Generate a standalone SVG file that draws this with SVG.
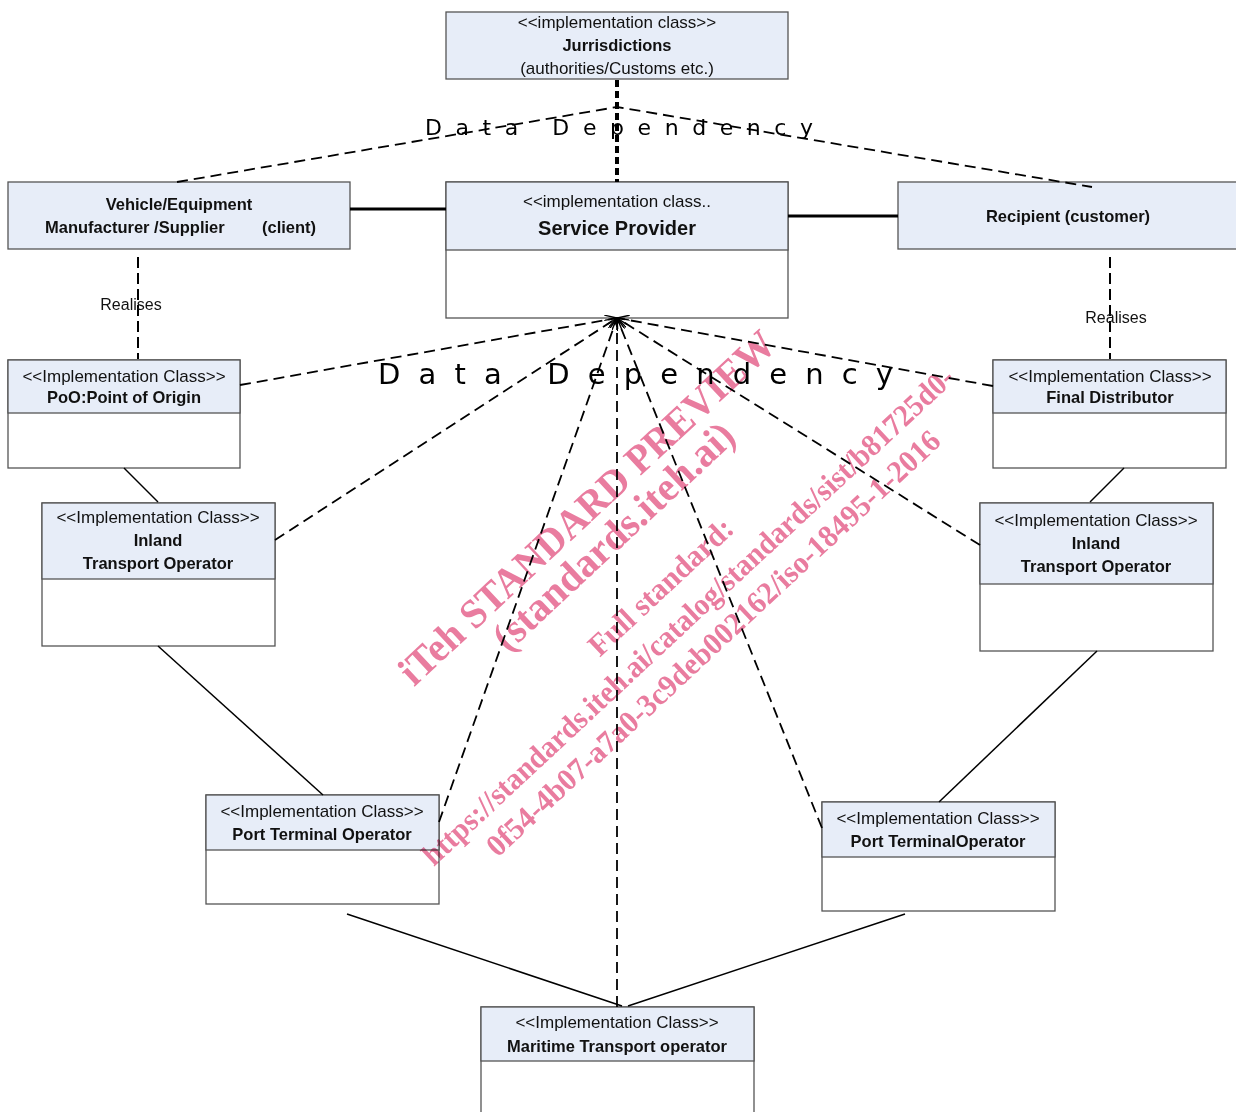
<svg xmlns="http://www.w3.org/2000/svg" width="1236" height="1112" viewBox="0 0 1236 1112">
<style>
.box{fill:#ffffff;stroke:#555555;stroke-width:1.3}
.hdr{fill:#E7EDF8;stroke:#555555;stroke-width:1.3}
.st{font-family:"Liberation Sans",Arial,sans-serif;font-size:17px;fill:#111;text-anchor:middle}
.nm{font-family:"Liberation Sans",Arial,sans-serif;font-size:16.5px;font-weight:bold;fill:#111;text-anchor:middle}
.lbl{font-family:"Liberation Sans",Arial,sans-serif;font-size:16px;fill:#111;text-anchor:middle}
.dd{font-family:"DejaVu Sans",sans-serif;fill:#000}
.dash{fill:none;stroke:#000;stroke-width:1.8;stroke-dasharray:11 6}
.real{fill:none;stroke:#000;stroke-width:2;stroke-dasharray:11 5}
.dot{fill:none;stroke:#000;stroke-width:4;stroke-dasharray:7 4}
.solid{fill:none;stroke:#000;stroke-width:1.5}
.thick{fill:none;stroke:#000;stroke-width:3}
.wm{font-family:"Liberation Serif","Times New Roman",serif;font-weight:bold;fill:#E97C9F;text-anchor:middle}
</style>
<defs>
<marker id="open" viewBox="0 0 12 10" refX="12" refY="5" markerWidth="12" markerHeight="10" markerUnits="userSpaceOnUse" orient="auto">
<path d="M0,0 L12,5 L0,10" fill="none" stroke="#000" stroke-width="1.4" style="stroke-dasharray:none"/>
</marker>
</defs>

<g id="jurrisdictions">
<rect class="hdr" x="446" y="12" width="342" height="67"/>
<text class="st" x="617" y="28">&lt;&lt;implementation class&gt;&gt;</text>
<text class="nm" x="617" y="51">Jurrisdictions</text>
<text class="st" x="617" y="74">(authorities/Customs etc.)</text>
</g>

<g id="vehicle">
<rect class="hdr" x="8" y="182" width="342" height="67"/>
<text class="nm" x="179" y="210">Vehicle/Equipment</text>
<text class="nm" x="45" y="233" style="text-anchor:start" xml:space="preserve">Manufacturer /Supplier     <tspan x="262">(client)</tspan></text>
</g>

<g id="service-provider">
<rect class="box" x="446" y="182" width="342" height="136"/>
<rect class="hdr" x="446" y="182" width="342" height="68"/>
<text class="st" x="617" y="207">&lt;&lt;implementation class..</text>
<text class="nm" x="617" y="235" style="font-size:20px">Service Provider</text>
</g>

<g id="recipient">
<rect class="hdr" x="898" y="182" width="345" height="67"/>
<text class="nm" x="1068" y="222">Recipient (customer)</text>
</g>

<g id="poo">
<rect class="box" x="8" y="360" width="232" height="108"/>
<rect class="hdr" x="8" y="360" width="232" height="53"/>
<text class="st" x="124" y="382">&lt;&lt;Implementation Class&gt;&gt;</text>
<text class="nm" x="124" y="403">PoO:Point of Origin</text>
</g>

<g id="final-distributor">
<rect class="box" x="993" y="360" width="233" height="108"/>
<rect class="hdr" x="993" y="360" width="233" height="53"/>
<text class="st" x="1110" y="382">&lt;&lt;Implementation Class&gt;&gt;</text>
<text class="nm" x="1110" y="403">Final Distributor</text>
</g>

<g id="inland-left">
<rect class="box" x="42" y="503" width="233" height="143"/>
<rect class="hdr" x="42" y="503" width="233" height="76"/>
<text class="st" x="158" y="523">&lt;&lt;Implementation Class&gt;&gt;</text>
<text class="nm" x="158" y="546">Inland</text>
<text class="nm" x="158" y="569">Transport Operator</text>
</g>

<g id="inland-right">
<rect class="box" x="980" y="503" width="233" height="148"/>
<rect class="hdr" x="980" y="503" width="233" height="81"/>
<text class="st" x="1096" y="526">&lt;&lt;Implementation Class&gt;&gt;</text>
<text class="nm" x="1096" y="549">Inland</text>
<text class="nm" x="1096" y="572">Transport Operator</text>
</g>

<g id="port-left">
<rect class="box" x="206" y="795" width="233" height="109"/>
<rect class="hdr" x="206" y="795" width="233" height="55"/>
<text class="st" x="322" y="817">&lt;&lt;Implementation Class&gt;&gt;</text>
<text class="nm" x="322" y="840">Port Terminal Operator</text>
</g>

<g id="port-right">
<rect class="box" x="822" y="802" width="233" height="109"/>
<rect class="hdr" x="822" y="802" width="233" height="55"/>
<text class="st" x="938" y="824">&lt;&lt;Implementation Class&gt;&gt;</text>
<text class="nm" x="938" y="847">Port TerminalOperator</text>
</g>

<g id="maritime">
<rect class="box" x="481" y="1007" width="273" height="115"/>
<rect class="hdr" x="481" y="1007" width="273" height="54"/>
<text class="st" x="617" y="1028">&lt;&lt;Implementation Class&gt;&gt;</text>
<text class="nm" x="617" y="1052">Maritime Transport operator</text>
</g>

<g id="connectors">
<line class="dot" x1="617" y1="80" x2="617" y2="182"/>
<polyline class="dash" points="177,182 617,107 1092,187"/>
<line class="thick" x1="350" y1="209" x2="446" y2="209"/>
<line class="thick" x1="788" y1="216" x2="898" y2="216"/>
<line class="real" x1="138" y1="257" x2="138" y2="359"/>
<line class="real" x1="1110" y1="257" x2="1110" y2="359"/>
<line class="solid" x1="124" y1="468" x2="158" y2="502"/>
<line class="solid" x1="158" y1="646" x2="323" y2="795"/>
<line class="solid" x1="1124" y1="468" x2="1090" y2="502"/>
<line class="solid" x1="1097" y1="651" x2="939" y2="802"/>
<line class="solid" x1="347" y1="914" x2="622" y2="1006"/>
<line class="solid" x1="905" y1="914" x2="628" y2="1006"/>
<line class="dash" x1="240" y1="385" x2="617" y2="318" marker-end="url(#open)"/>
<line class="dash" x1="275" y1="540" x2="617" y2="318" marker-end="url(#open)"/>
<line class="dash" x1="439" y1="822" x2="617" y2="318" marker-end="url(#open)"/>
<line class="dash" x1="617" y1="1007" x2="617" y2="318" marker-end="url(#open)"/>
<line class="dash" x1="822" y1="828" x2="617" y2="318" marker-end="url(#open)"/>
<line class="dash" x1="980" y1="545" x2="617" y2="318" marker-end="url(#open)"/>
<line class="dash" x1="993" y1="386" x2="617" y2="318" marker-end="url(#open)"/>
<text class="lbl" x="131" y="310">Realises</text>
<text class="lbl" x="1116" y="323">Realises</text>
<text class="dd" x="425" y="135" font-size="22" textLength="388" lengthAdjust="spacing">Data Dependency</text>
<text class="dd" x="378" y="384" font-size="29" textLength="515" lengthAdjust="spacing">Data Dependency</text>
</g>

<g id="watermark" transform="rotate(-43)" style="mix-blend-mode:multiply">
<text class="wm" x="83" y="785" font-size="41" textLength="498" lengthAdjust="spacingAndGlyphs">iTeh STANDARD PREVIEW</text>
<text class="wm" x="83" y="824" font-size="41" textLength="314" lengthAdjust="spacingAndGlyphs">(standards.iteh.ai)</text>
<text class="wm" x="83" y="890" font-size="31" textLength="186" lengthAdjust="spacingAndGlyphs">Full standard:</text>
<text class="wm" x="83" y="930" font-size="31" textLength="714" lengthAdjust="spacingAndGlyphs">https://standards.iteh.ai/catalog/standards/sist/b81725d0-</text>
<text class="wm" x="83" y="967" font-size="31" textLength="608" lengthAdjust="spacingAndGlyphs">0f54-4b07-a7a0-3c9deb002162/iso-18495-1-2016</text>
</g>
</svg>
